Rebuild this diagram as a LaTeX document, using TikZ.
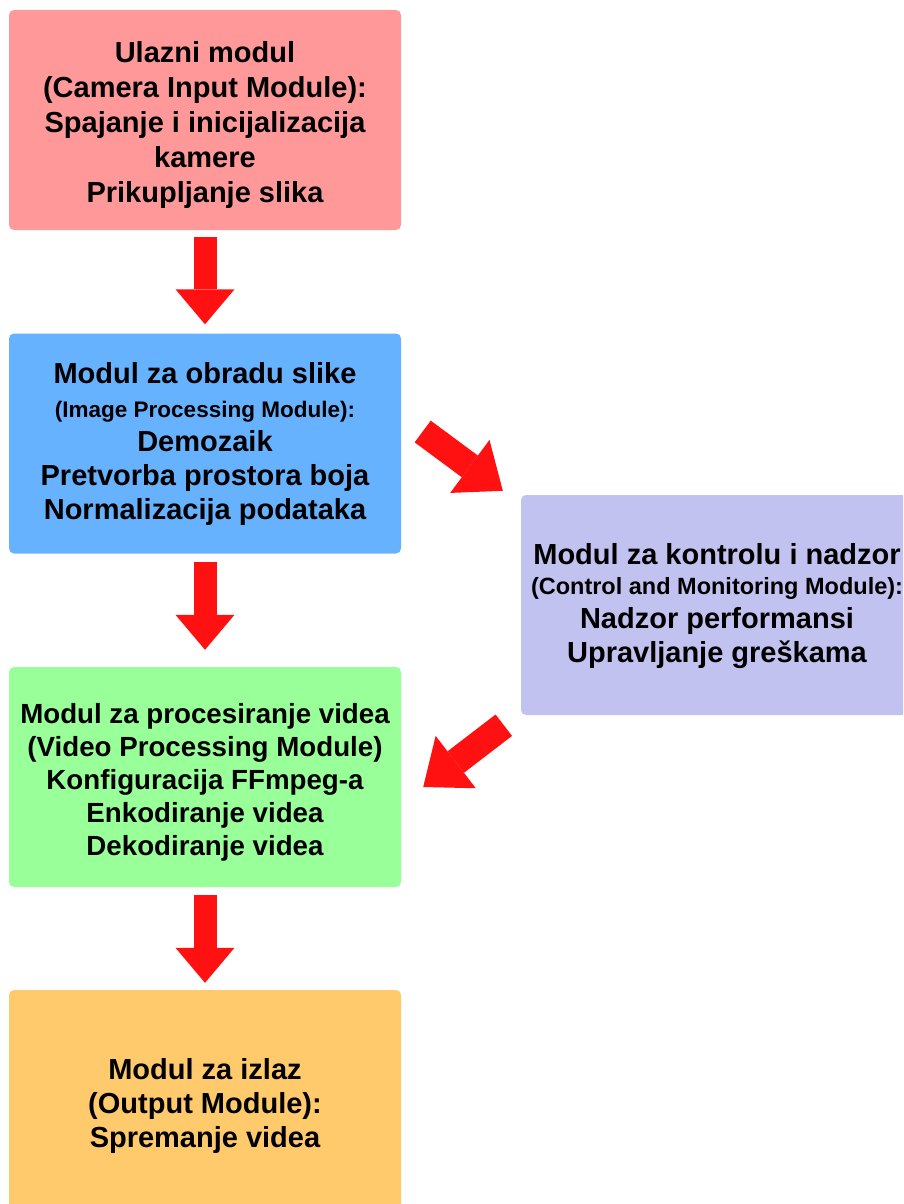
\documentclass[tikz,border=0pt]{standalone}
\usepackage{fontspec}
\setmainfont{Liberation Sans}
\usepackage{tikz}
\usetikzlibrary{arrows.meta,calc}
\definecolor{inred}{RGB}{255,153,153}
\definecolor{procblue}{RGB}{102,178,255}
\definecolor{vidgreen}{RGB}{153,255,153}
\definecolor{outorange}{RGB}{255,202,108}
\definecolor{ctllav}{RGB}{194,194,240}
\definecolor{arrred}{RGB}{255,17,17}
\newcommand{\modfont}[2]{\bfseries\fontsize{#1}{#2}\selectfont}
\tikzstyle{modbox}=[rounded corners=5pt, minimum width=392pt, minimum height=220pt, inner sep=0pt, align=center]
\tikzstyle{down>}=[draw=arrred, line width=23pt, -{Triangle[length=35pt,width=59pt,line width=0pt]}]
\tikzstyle{diag>}=[draw=arrred, line width=27pt, -{Triangle[length=41pt,width=66pt,line width=0pt]}]

\begin{document}
\begin{tikzpicture}[x=1pt, y=1pt]
\clip (0,0) rectangle (903,-1204);
\node[modbox, fill=inred, font=\modfont{29}{35}] (inmod) at (205,-120)
 {\rule{0pt}{31pt}Ulazni modul\\(Camera Input Module):\\Spajanje i inicijalizacija\\kamere\\Prikupljanje slika};
\node[modbox, fill=procblue, font=\modfont{29}{34}] (imgmod) at (205,-443.5)
 {Modul za obradu slike\\{\fontsize{22.5}{34}\selectfont (Image Processing Module):}\\Demozaik\\Pretvorba prostora boja\\Normalizacija podataka};
\node[modbox, fill=vidgreen, font=\modfont{27.7}{33}] (vidmod) at (205,-777)
 {\rule{0pt}{30pt}Modul za procesiranje videa\\(Video Processing Module)\\Konfiguracija FFmpeg-a\\Enkodiranje videa\\Dekodiranje videa};
\node[modbox, fill=outorange, font=\modfont{29}{34}] (outmod) at (205,-1100)
 {\rule{0pt}{32pt}Modul za izlaz\\(Output Module):\\Spremanje videa};
\node[modbox, fill=ctllav, font=\modfont{29}{34}] (ctlmod) at (717,-605)
 {\rule{0pt}{24pt}Modul za kontrolu i nadzor\\[-4pt]{\fontsize{23.5}{34}\selectfont (Control and Monitoring Module):}\\Nadzor performansi\\Upravljanje greškama};
\draw[down>, shorten <=7pt, shorten >=9pt] (inmod.south) -- (imgmod.north);
\draw[down>, shorten <=8.5pt, shorten >=17pt] (imgmod.south) -- (vidmod.north);
\draw[down>, shorten <=8pt, shorten >=7pt] (vidmod.south) -- (outmod.north);
\draw[diag>] ($(imgmod.east)+(21.5,12)$) coordinate (da) -- ($(ctlmod.north west)+(-18,4)$);
\draw[diag>] ($(ctlmod.south west)+(-17,-10)$) coordinate (db) -- ($(vidmod.east)+(22,-10)$);
\end{tikzpicture}
\end{document}
